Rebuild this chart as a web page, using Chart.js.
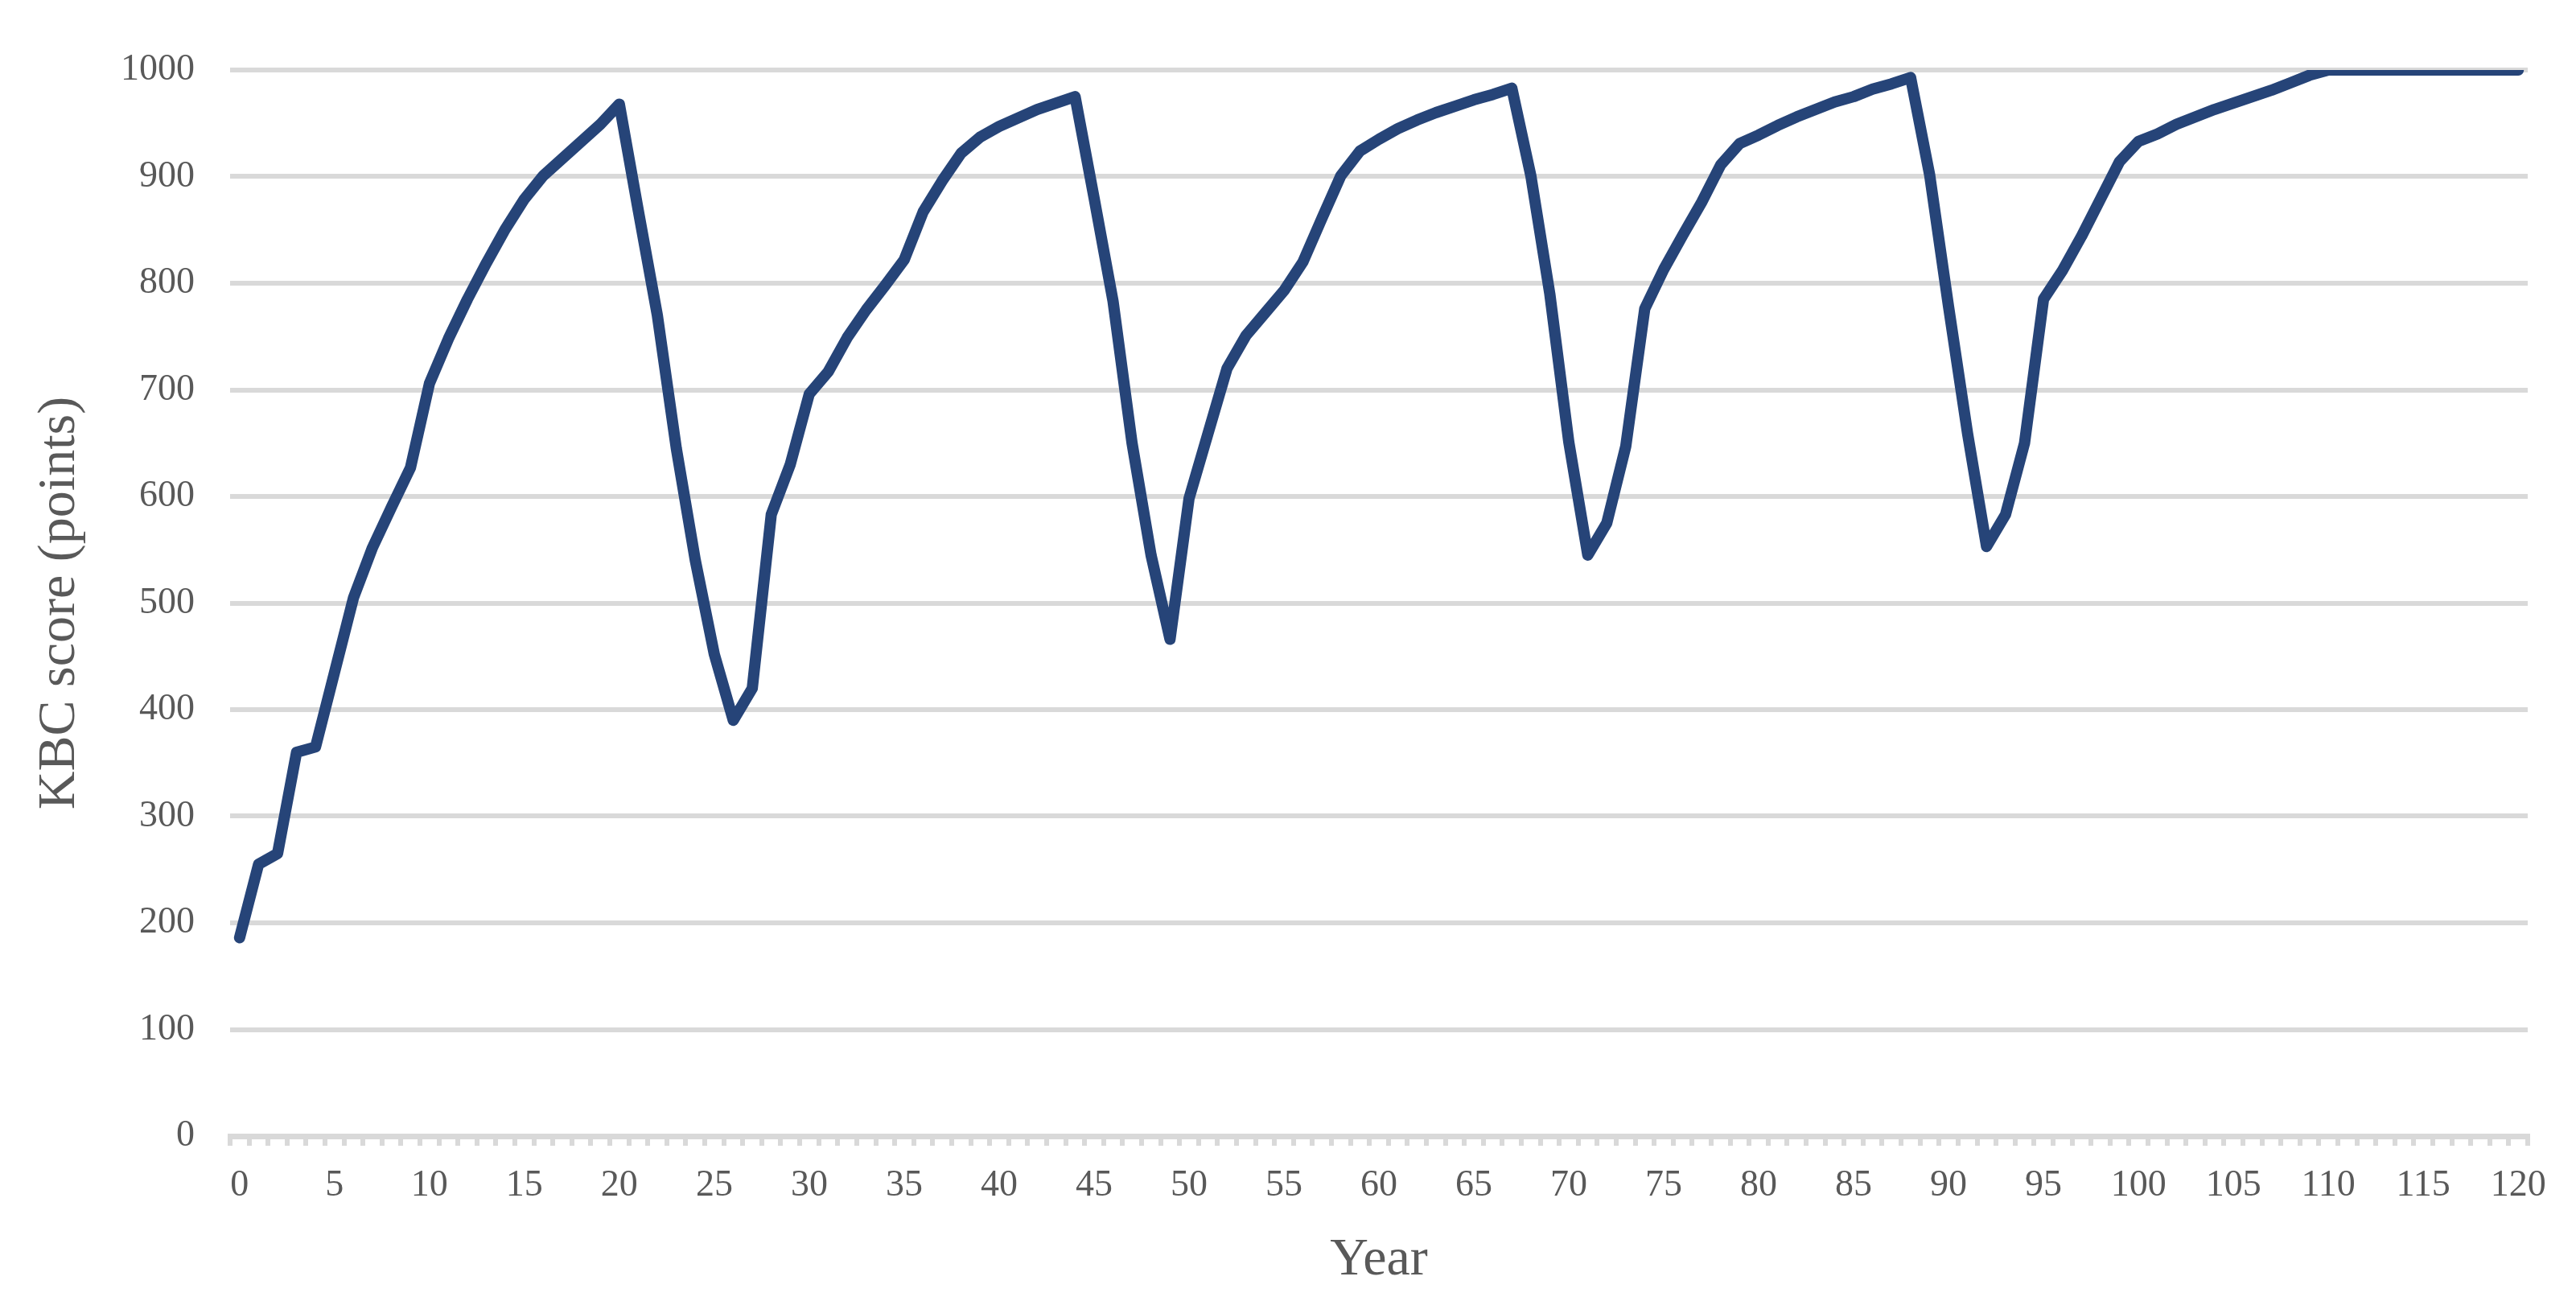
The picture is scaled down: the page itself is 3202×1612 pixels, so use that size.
<!DOCTYPE html>
<html>
<head>
<meta charset="utf-8">
<title>KBC score</title>
<script src="https://cdn.jsdelivr.net/npm/chart.js@4.4.1/dist/chart.umd.min.js"></script>
<style>
  body{margin:0;background:#fff;}
  #wrap{width:3202px;height:1612px;}
</style>
</head>
<body>
<div id="wrap"><canvas id="chart" width="3202" height="1612"></canvas></div>
<script>
// years 0..120 on the category axis
const years = [];
for(let y=0;y<=120;y++) years.push(y);

// KBC score per year
const kbcScore = [
  186,255,265,360,365,435,505,552,590,627,
  706,748,785,819,851,879,901,917,933,949,
  968,868,770,645,540,452,390,420,583,630,
  696,717,749,775,798,822,867,896,922,937,
  947,955,963,969,975,880,783,650,545,466,
  598,659,720,751,772,793,820,861,901,924,
  935,945,953,960,966,972,977,983,901,790,
  651,545,575,647,776,813,845,876,911,931,
  939,948,956,963,970,975,982,987,993,902,
  778,659,553,583,650,785,812,844,879,914,
  933,940,949,956,963,969,975,981,988,995,
  1000,1000,1000,1000,1000,1000,1000,1000,1000,1000,
  1000
];

const labelEvery = 5;
const yMin = 0, yMax = 1000, yStep = 100;

const FONT = "'Liberation Serif', 'Times New Roman', serif";
const GREY_TXT = '#595959';
const GREY_LINE = '#d9d9d9';

function render(){
  const ctx = document.getElementById('chart').getContext('2d');
  new Chart(ctx, {
    type:'line',
    data:{
      labels: years,
      datasets:[{
        data: kbcScore,
        borderColor:'#264478',
        borderWidth:14,
        pointRadius:0,
        tension:0,
        borderJoinStyle:'round',
        borderCapStyle:'round',
        clip:0,
        fill:false
      }]
    },
    options:{
      responsive:false,
      animation:false,
      layout:{padding:{top:87,right:60,left:0,bottom:0}},
      plugins:{legend:{display:false},tooltip:{enabled:false}},
      scales:{
        x:{
          type:'category',
          offset:true,
          grid:{display:true,drawOnChartArea:false,drawTicks:true,offset:true,tickLength:12,color:GREY_LINE,lineWidth:6},
          border:{display:true,color:GREY_LINE,width:7},
          ticks:{
            autoSkip:false,maxRotation:0,minRotation:0,padding:22,
            color:GREY_TXT,font:{family:FONT,size:46},
            callback:(v,i)=> i%labelEvery===0 ? String(years[i]) : ''
          },
          title:{display:true,text:'Year',color:GREY_TXT,font:{family:FONT,size:66,lineHeight:1},padding:{top:0,bottom:12}},
          afterFit:(s)=>{ s.height = 200; }
        },
        y:{
          min:yMin,max:yMax,
          grid:{color:GREY_LINE,lineWidth:6,drawTicks:false},
          border:{display:false},
          ticks:{stepSize:yStep,padding:44,color:GREY_TXT,font:{family:FONT,size:46},callback:(v)=>String(v)},
          title:{display:true,text:'KBC score (points)',color:GREY_TXT,font:{family:FONT,size:66,lineHeight:1},padding:{top:42,bottom:0}},
          afterFit:(s)=>{ s.width = 286; }
        }
      }
    }
  });
}

window.addEventListener('load', ()=>{ render(); });
</script>
</body>
</html>
